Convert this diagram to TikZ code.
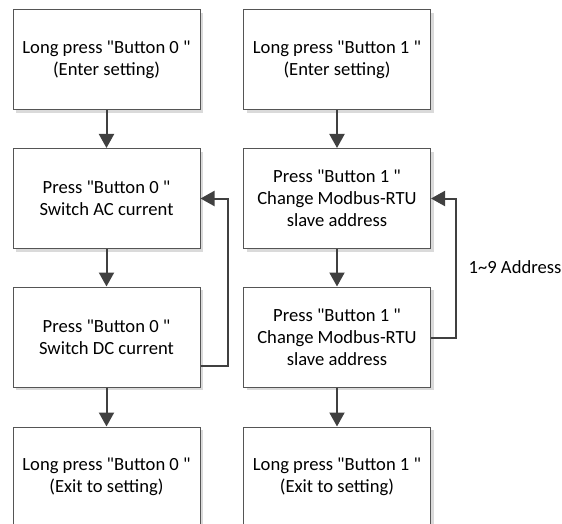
\documentclass[tikz,border=0pt]{standalone}
\usepackage{fontspec}
\setmainfont{Carlito}
\usetikzlibrary{arrows.meta,shadows,calc}
\definecolor{linec}{HTML}{404040}
\definecolor{boxc}{HTML}{555555}
\definecolor{shadc}{HTML}{DADADA}
\newcommand{\qq}{\textquotedbl}
\tikzset{
  stepbox/.style={draw=boxc, line width=1pt, fill=white, minimum width=187pt, minimum height=100pt,
    inner sep=0pt, align=center, font=\fontsize{18.6}{22}\selectfont, text=black,
    drop shadow={shadow xshift=3pt, shadow yshift=-3pt, fill=shadc, opacity=1}},
  arr/.style={draw=linec, line width=2pt, -{Triangle[width=15pt,length=14pt]}},
  lbl/.style={font=\fontsize{18.6}{22}\selectfont, text=black}
}
\begin{document}
\begin{tikzpicture}[x=1pt,y=-1pt]
\useasboundingbox (0,0) rectangle (562,524);
\clip (0,0) rectangle (562,524);
\node[stepbox] (a1) at (106.5,60) {Long press \qq Button 0 \qq\\(Enter setting)};
\node[stepbox] (a2) at (106.5,198.5) {Press \qq Button 0 \qq\\Switch AC current};
\node[stepbox] (a3) at (106.5,337) {Press \qq Button 0 \qq\\Switch DC current};
\node[stepbox] (a4) at (106.5,477) {Long press \qq Button 0 \qq\\(Exit to setting)};
\node[stepbox] (b1) at (337,60) {Long press \qq Button 1 \qq\\(Enter setting)};
\node[stepbox] (b2) at (337,198.5) {Press \qq Button 1 \qq\\Change Modbus-RTU\\slave address};
\node[stepbox] (b3) at (337,337) {Press \qq Button 1 \qq\\Change Modbus-RTU\\slave address};
\node[stepbox] (b4) at (337,477) {Long press \qq Button 1 \qq\\(Exit to setting)};
\node[lbl] (l1) at (515,267) {1\textasciitilde 9 Address};
\draw[arr] (a1) -- (a2);
\draw[arr] (a2) -- (a3);
\draw[arr] (a3) -- (a4);
\draw[arr] (b1) -- (b2);
\draw[arr] (b2) -- (b3);
\draw[arr] (b3) -- (b4);
\coordinate (la) at ($(a3.east)+(0,29)$);
\coordinate (lb) at ($(a3.east)+(27,29)$);
\draw[arr] (la) -- (lb) |- (a2.east);
\coordinate (ra) at ($(b3.east)+(0,1)$);
\coordinate (rb) at ($(b3.east)+(25,1)$);
\draw[arr] (ra) -- (rb) |- (b2.east);
\end{tikzpicture}
\end{document}
